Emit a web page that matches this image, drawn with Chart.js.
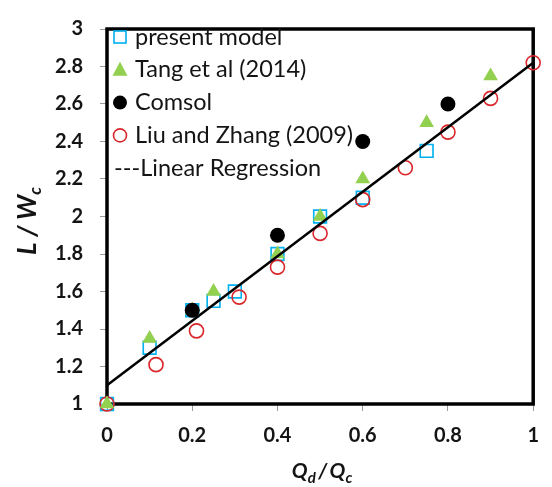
<!DOCTYPE html>
<html>
<head>
<meta charset="utf-8">
<script src="https://cdn.jsdelivr.net/npm/chart.js@4.4.1/dist/chart.umd.min.js"></script>
<style>
html,body{margin:0;padding:0;background:#fff;}
#wrap{width:552px;height:487px;position:relative;}
</style>
</head>
<body>
<div id="wrap"><canvas id="c" width="552" height="487"></canvas></div>
<script>
// ---- Data ----
const presentX = [0, 0.1, 0.2, 0.25, 0.3, 0.4, 0.5, 0.6, 0.75];
const presentY = [1.0, 1.3, 1.5, 1.55, 1.6, 1.8, 2.0, 2.1, 2.35];

const tangX = [0, 0.1, 0.2, 0.25, 0.4, 0.5, 0.6, 0.75, 0.9];
const tangY = [1.0, 1.35, 1.5, 1.6, 1.8, 2.0, 2.2, 2.5, 2.75];

const comsolX = [0.2, 0.4, 0.6, 0.8];
const comsolY = [1.5, 1.9, 2.4, 2.6];

const liuX = [0, 0.115, 0.21, 0.31, 0.4, 0.5, 0.6, 0.7, 0.8, 0.9, 1.0];
const liuY = [1.0, 1.21, 1.39, 1.57, 1.73, 1.91, 2.09, 2.26, 2.45, 2.63, 2.82];

const regX = [0, 1];
const regY = [1.1, 2.82];

const seriesNames = ["present model", "Tang et al (2014)", "Comsol", "Liu and Zhang (2009)", "---Linear Regression"];
const xTicks = [0, 0.2, 0.4, 0.6, 0.8, 1];
const yTicks = [1, 1.2, 1.4, 1.6, 1.8, 2, 2.2, 2.4, 2.6, 2.8, 3];

const pts = (xs, ys) => xs.map((x, i) => ({x: x, y: ys[i]}));

const BLUE = '#00B0F0', GREEN = '#92D050', RED = '#D9262B', BLACK = '#000000';
const TXT = '#141414';

const framePlugin = {
  id: 'frame',
  beforeDatasetsDraw(chart) {
    const a = chart.chartArea, ctx = chart.ctx;
    ctx.save();
    ctx.strokeStyle = '#000';
    ctx.lineWidth = 3.5;
    ctx.strokeRect(a.left, a.top, a.right - a.left, a.bottom - a.top);
    ctx.restore();
  },
  afterDraw(chart) {
    const ctx = chart.ctx;
    ctx.save();
    // legend
    const lx = 120, ly0 = 37, step = 32.8, tx = 135;
    ctx.font = '23.5px Lato';
    ctx.textBaseline = 'middle';
    ctx.fillStyle = TXT;
    for (let i = 0; i < seriesNames.length; i++) {
      const y = ly0 + i * step;
      ctx.save();
      if (i === 0) {
        ctx.strokeStyle = BLUE; ctx.lineWidth = 1.6;
        ctx.strokeRect(lx - 6, y - 6, 12, 12);
      } else if (i === 1) {
        ctx.fillStyle = GREEN;
        ctx.beginPath();
        ctx.moveTo(lx, y - 8); ctx.lineTo(lx + 7.5, y + 6); ctx.lineTo(lx - 7.5, y + 6); ctx.closePath();
        ctx.fill();
      } else if (i === 2) {
        ctx.fillStyle = BLACK;
        ctx.beginPath(); ctx.arc(lx, y, 7, 0, Math.PI * 2); ctx.fill();
      } else if (i === 3) {
        ctx.strokeStyle = RED; ctx.lineWidth = 1.6;
        ctx.beginPath(); ctx.arc(lx, y, 6.5, 0, Math.PI * 2); ctx.stroke();
      }
      ctx.restore();
      ctx.fillText(seriesNames[i], i === 4 ? 114 : tx, y);
    }
    // x title: Q_d / Q_c
    ctx.fillStyle = TXT;
    ctx.textBaseline = 'alphabetic';
    const big = 'italic bold 21px Lato', small = 'italic bold 15px Lato';
    const parts = [['Q', big, 0], ['d', small, 5], ['\u2009/\u2009', big, 0], ['Q', big, 0], ['c', small, 5]];
    let w = 0;
    parts.forEach(p => { ctx.font = p[1]; w += ctx.measureText(p[0]).width; });
    let x = 322 - w / 2;
    const by = 478;
    parts.forEach(p => { ctx.font = p[1]; ctx.fillText(p[0], x, by + p[2]); x += ctx.measureText(p[0]).width; });
    // y title: L / W_c rotated
    ctx.save();
    ctx.translate(36, 221);
    ctx.rotate(-Math.PI / 2);
    const bigY = 'italic bold 26px Lato', smallY = 'italic bold 17px Lato';
    const yparts = [['L', bigY, 0], [' / ', bigY, 0], ['W', bigY, 0], ['c', smallY, 5]];
    w = 0;
    yparts.forEach(p => { ctx.font = p[1]; w += ctx.measureText(p[0]).width; });
    x = -w / 2;
    yparts.forEach(p => { ctx.font = p[1]; ctx.fillText(p[0], x, p[2]); x += ctx.measureText(p[0]).width; });
    ctx.restore();
    ctx.restore();
  }
};

const fmt = v => String(Number(v.toFixed(1)));

new Chart(document.getElementById('c'), {
  type: 'scatter',
  data: {
    datasets: [
      {label: seriesNames[4], type: 'line', data: pts(regX, regY), borderColor: BLACK, borderWidth: 2.5,
       pointRadius: 0, fill: false, order: 2, clip: false},
      {label: seriesNames[0], data: pts(presentX, presentY), pointStyle: 'rect', pointRadius: 9,
       borderColor: BLUE, backgroundColor: 'rgba(0,0,0,0)', pointBorderWidth: 1.6, order: 5, clip: false},
      {label: seriesNames[1], data: pts(tangX, tangY), pointStyle: 'triangle', pointRadius: 8.5,
       borderColor: GREEN, backgroundColor: GREEN, pointBorderWidth: 0, order: 3, clip: false},
      {label: seriesNames[3], data: pts(liuX, liuY), pointStyle: 'circle', pointRadius: 7,
       borderColor: RED, backgroundColor: 'rgba(0,0,0,0)', pointBorderWidth: 1.6, order: 4, clip: false},
      {label: seriesNames[2], data: pts(comsolX, comsolY), pointStyle: 'circle', pointRadius: 7.5,
       borderColor: BLACK, backgroundColor: BLACK, pointBorderWidth: 0, order: 1, clip: false}
    ]
  },
  options: {
    responsive: false,
    animation: false,
    events: [],
    layout: {padding: {left: 0, right: 9, top: 19, bottom: 0}},
    plugins: {legend: {display: false}, tooltip: {enabled: false}},
    scales: {
      x: {
        type: 'linear', min: 0, max: 1,
        afterFit(s) { s.height = 83; },
        afterBuildTicks(s) { s.ticks = xTicks.map(v => ({value: v})); },
        grid: {drawOnChartArea: false, tickLength: 7, color: '#9a9a9a', lineWidth: 1},
        border: {display: false},
        ticks: {padding: 13, color: TXT, font: {family: 'Lato', size: 20, weight: 'bold'}, maxRotation: 0,
                callback: v => fmt(v)}
      },
      y: {
        type: 'linear', min: 1, max: 3,
        afterFit(s) { s.width = 107; },
        afterBuildTicks(s) { s.ticks = yTicks.map(v => ({value: v})); },
        grid: {drawOnChartArea: false, tickLength: 7, color: '#9a9a9a', lineWidth: 1},
        border: {display: false},
        ticks: {padding: 17, color: TXT, font: {family: 'Lato', size: 20, weight: 'bold'},
                callback: v => fmt(v)}
      }
    }
  },
  plugins: [framePlugin]
});
</script>
</body>
</html>
